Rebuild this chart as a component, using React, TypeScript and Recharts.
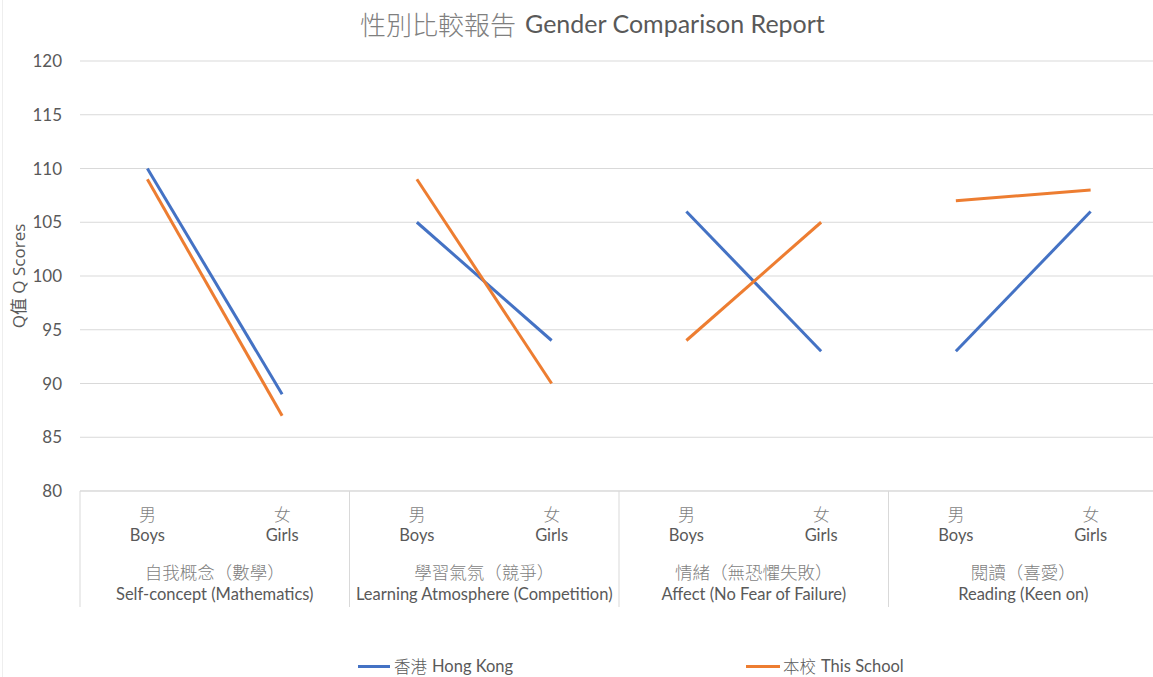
import React from 'react';
import { LineChart, Line, XAxis, YAxis, CartesianGrid, Legend } from 'recharts';

const groupsZh = ['自我概念（數學）', '學習氣氛（競爭）', '情緒（無恐懼失敗）', '閱讀（喜愛）'];
const groupsEn = ['Self-concept (Mathematics)', 'Learning Atmosphere (Competition)', 'Affect (No Fear of Failure)', 'Reading (Keen on)'];
const gendersZh = ['男', '女'];
const gendersEn = ['Boys', 'Girls'];
const hongKong = [110, 89, 105, 94, 106, 93, 93, 106];
const thisSchool = [109, 87, 109, 90, 94, 105, 107, 108];
const yTicks = [80, 85, 90, 95, 100, 105, 110, 115, 120];

const HK_NAME = '香港 Hong Kong';
const SCHOOL_NAME = '本校 This School';
const BLUE = '#4472C4';
const ORANGE = '#ED7D31';
const TEXT = '#595959';
const CJK_GRAY = '#7f7f7f';
const LATIN = 'Lato, "Open Sans", sans-serif';
const CJK = '"Noto Sans CJK TC", "Noto Sans CJK SC", sans-serif';

const data: any[] = [];
hongKong.forEach((_, i) => {
  const g = Math.floor(i / 2);
  const s = i % 2;
  const row: any = { cat: `${g}-${s}`, g, s, gzh: gendersZh[s], gen: gendersEn[s] };
  row[`hk${g}`] = hongKong[i];
  row[`sc${g}`] = thisSchool[i];
  data.push(row);
});

const CatTick = (props: any) => {
  const { x, y, index, width, visibleTicksCount } = props;
  const row = data[index];
  if (!row) return null;
  const n = visibleTicksCount || data.length;
  const half = width / n / 2;
  const isFirst = row.s === 0;
  const isLast = index === n - 1;
  return (
    <g>
      {isFirst && <line x1={x - half} x2={x - half} y1={y} y2={y + 116} stroke="#d9d9d9" strokeWidth={1} />}
      {isLast && <line x1={x + half} x2={x + half} y1={y} y2={y + 116} stroke="#d9d9d9" strokeWidth={1} />}
      <text x={x} y={y + 25} textAnchor="middle" dominantBaseline="middle" fill={CJK_GRAY} fontFamily={CJK} fontWeight={300} fontSize={17}>{row.gzh}</text>
      <text x={x} y={y + 46} textAnchor="middle" dominantBaseline="middle" fill={TEXT} fontFamily={LATIN} fontSize={16.5}>{row.gen}</text>
      {isFirst && (
        <g>
          <text x={x + half} y={y + 83} textAnchor="middle" dominantBaseline="middle" fill={CJK_GRAY} fontFamily={CJK} fontWeight={300} fontSize={17.5}>{groupsZh[row.g]}</text>
          <text x={x + half} y={y + 105} textAnchor="middle" dominantBaseline="middle" fill={TEXT} fontFamily={LATIN} fontSize={16.5}>{groupsEn[row.g]}</text>
        </g>
      )}
    </g>
  );
};

const LegendContent = () => (
  <div style={{ position: 'relative', height: 24, fontSize: 16.5, color: TEXT }}>
    <div style={{ position: 'absolute', left: 358, top: 0, display: 'flex', alignItems: 'center', height: 24, whiteSpace: 'nowrap' }}>
      <span style={{ display: 'inline-block', width: 32, height: 3, background: BLUE, marginRight: 4 }} />
      <span style={{ fontFamily: CJK, fontWeight: 300 }}>香港</span>
      <span style={{ fontFamily: LATIN, marginLeft: 5 }}>Hong Kong</span>
    </div>
    <div style={{ position: 'absolute', left: 746, top: 0, display: 'flex', alignItems: 'center', height: 24, whiteSpace: 'nowrap' }}>
      <span style={{ display: 'inline-block', width: 34, height: 3, background: ORANGE, marginRight: 3 }} />
      <span style={{ fontFamily: CJK, fontWeight: 300 }}>本校</span>
      <span style={{ fontFamily: LATIN, marginLeft: 5 }}>This School</span>
    </div>
  </div>
);

export default function App() {
  const groups = [0, 1, 2, 3];
  return (
    <div style={{ position: 'absolute', left: 0, top: 0, width: 1153, height: 677, overflow: 'hidden', background: '#fff' }}>
      <div style={{ position: 'absolute', left: 2, top: 0, width: 1, height: 677, background: '#eeeeee' }} />
      <div style={{ position: 'absolute', left: 360, top: 6, color: TEXT, whiteSpace: 'nowrap', display: 'flex', alignItems: 'center', height: 34 }}>
        <span style={{ fontFamily: CJK, fontWeight: 300, fontSize: 26, color: CJK_GRAY }}>性別比較報告</span>
        <span style={{ fontFamily: LATIN, fontSize: 25, marginLeft: 9 }}>Gender Comparison Report</span>
      </div>
      <LineChart width={1160} height={677} data={data} margin={{ top: 61, right: 2, bottom: 46, left: 0 }} style={{ position: 'absolute', left: 0, top: 0 }}>
        <CartesianGrid vertical={false} stroke="#d9d9d9" strokeWidth={1} />
        <XAxis dataKey="cat" scale="band" height={116} tick={<CatTick />} tickLine={false} axisLine={{ stroke: '#d9d9d9' }} tickSize={0} tickMargin={0} interval={0} />
        <YAxis
          domain={[80, 120]}
          ticks={yTicks}
          width={80}
          tickLine={false}
          axisLine={false}
          tickSize={0}
          tickMargin={18}
          tick={{ fill: TEXT, fontSize: 17, fontFamily: LATIN }}
          label={{ value: 'Q值 Q Scores', angle: -90, position: 'insideLeft', offset: 19, style: { textAnchor: 'middle', fill: TEXT, fontSize: 17, fontFamily: '"Open Sans", "Noto Sans CJK TC", sans-serif' } }}
        />
        {groups.map((g) => (
          <Line key={`hk${g}`} type="linear" dataKey={`hk${g}`} name={HK_NAME} stroke={BLUE} strokeWidth={3} dot={false} activeDot={false} isAnimationActive={false} connectNulls={false} legendType="none" />
        ))}
        {groups.map((g) => (
          <Line key={`sc${g}`} type="linear" dataKey={`sc${g}`} name={SCHOOL_NAME} stroke={ORANGE} strokeWidth={3} dot={false} activeDot={false} isAnimationActive={false} connectNulls={false} legendType="none" />
        ))}
        <Legend verticalAlign="bottom" content={<LegendContent />} wrapperStyle={{ bottom: -1, left: 0, width: 1153, height: 24 }} />
      </LineChart>
    </div>
  );
}
